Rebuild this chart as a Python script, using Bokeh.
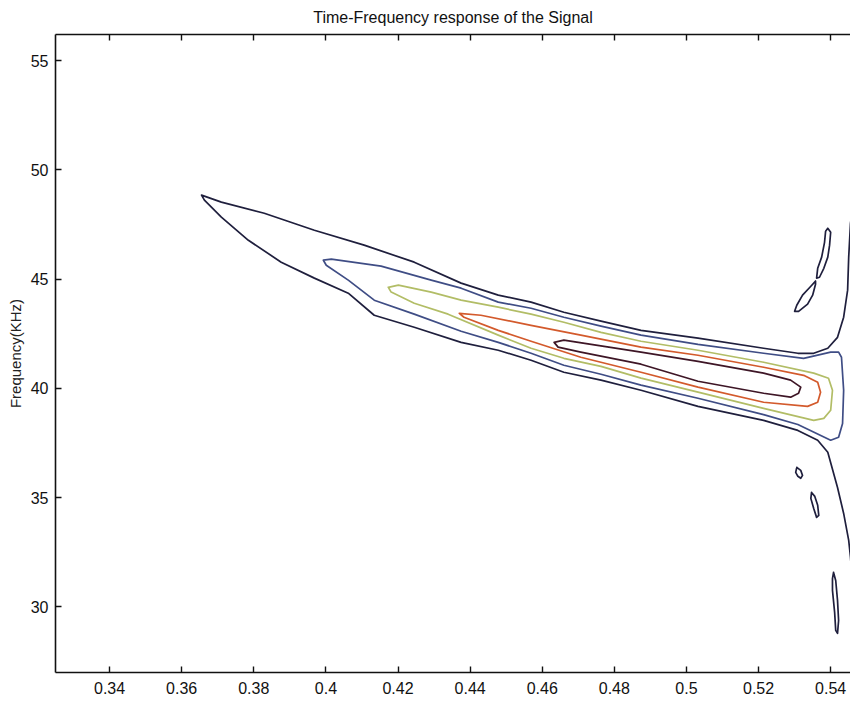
from bokeh.plotting import figure
from bokeh.models import Range1d, LinearAxis, FixedTicker, CustomJSTickFormatter, ColumnDataSource
from bokeh.embed import file_html
from bokeh.resources import INLINE

# ---- data (time in s, frequency in kHz), contour outlines ----
x_ticks = [0.34, 0.36, 0.38, 0.40, 0.42, 0.44, 0.46, 0.48, 0.50, 0.52, 0.54]
y_ticks = [30, 35, 40, 45, 50, 55]

# level 1 (outermost, open at the right edge)
outer_x = [0.5464, 0.5455, 0.5450, 0.5447, 0.5436, 0.5419, 0.5392, 0.5353, 0.5309, 0.5214,
           0.5032, 0.4874, 0.4763, 0.4660, 0.4569, 0.4478, 0.4375, 0.4245, 0.4106, 0.3968,
           0.3829, 0.3710, 0.3655,
           0.3663, 0.3710, 0.3785, 0.3876, 0.3968, 0.4062, 0.4134, 0.4245, 0.4375, 0.4478,
           0.4569, 0.4660, 0.4763, 0.4874, 0.5032, 0.5214, 0.5309, 0.5364, 0.5392, 0.5419,
           0.5436, 0.5450, 0.5455, 0.5464]
outer_y = [48.62, 47.56, 46.01, 44.50, 43.26, 42.34, 41.84, 41.61, 41.61, 41.84,
           42.30, 42.66, 43.08, 43.49, 43.95, 44.27, 44.82, 45.78, 46.56, 47.24,
           48.02, 48.53, 48.85,
           48.62, 47.84, 46.78, 45.78, 45.05, 44.36, 43.35, 42.80, 42.11, 41.75,
           41.29, 40.74, 40.38, 39.92, 39.18, 38.54, 38.08, 37.63, 37.08, 35.47,
           34.28, 33.05, 32.28, 30.30]

# level 2
blue_x = [0.3993, 0.4015, 0.4153, 0.4292, 0.4375, 0.4478, 0.4569, 0.4660, 0.4763, 0.4874,
          0.5032, 0.5214, 0.5325, 0.5400, 0.5422, 0.5430, 0.5436, 0.5433, 0.5422, 0.5400,
          0.5309, 0.5214, 0.5032, 0.4874, 0.4763, 0.4660, 0.4569, 0.4478, 0.4375, 0.4245,
          0.4134, 0.4062, 0.4001, 0.3993]
blue_y = [45.87, 45.92, 45.60, 44.96, 44.59, 43.95, 43.67, 43.26, 42.85, 42.44,
          42.02, 41.61, 41.38, 41.66, 41.66, 41.43, 39.92, 38.40, 37.77, 37.63,
          38.35, 38.80, 39.55, 40.15, 40.65, 41.06, 41.61, 42.11, 42.62, 43.40,
          44.04, 44.96, 45.64, 45.87]

# level 3
green_x = [0.4173, 0.4201, 0.4292, 0.4375, 0.4478, 0.4569, 0.4660, 0.4763, 0.4874, 0.5032,
           0.5214, 0.5353, 0.5394, 0.5405, 0.5400, 0.5381, 0.5353, 0.5214, 0.5032, 0.4874,
           0.4763, 0.4660, 0.4569, 0.4478, 0.4339, 0.4245, 0.4181, 0.4173]
green_y = [44.63, 44.73, 44.41, 44.04, 43.72, 43.40, 43.03, 42.57, 42.16, 41.75,
           41.20, 40.70, 40.47, 39.92, 39.00, 38.63, 38.54, 39.09, 39.83, 40.47,
           41.01, 41.38, 41.84, 42.44, 43.40, 43.90, 44.41, 44.63]

# level 4
orange_x = [0.4370, 0.4430, 0.4569, 0.4707, 0.4874, 0.5032, 0.5214, 0.5325, 0.5364, 0.5372,
            0.5364, 0.5336, 0.5214, 0.5032, 0.4874, 0.4707, 0.4569, 0.4478, 0.4383, 0.4370]
orange_y = [43.44, 43.35, 42.89, 42.44, 41.89, 41.52, 40.97, 40.60, 40.28, 39.83,
            39.37, 39.18, 39.37, 40.06, 40.74, 41.43, 42.16, 42.66, 43.26, 43.44]

# level 5 (innermost)
inner_x = [0.4633, 0.4660, 0.4874, 0.5032, 0.5214, 0.5289, 0.5317, 0.5311, 0.5289, 0.5214,
           0.5032, 0.4874, 0.4707, 0.4644, 0.4633]
inner_y = [42.11, 42.21, 41.66, 41.24, 40.70, 40.38, 40.06, 39.78, 39.60, 39.78,
           40.33, 41.11, 41.66, 41.89, 42.11]

# small level-1 islands on the right
isl1_x = [0.5392, 0.5400, 0.5397, 0.5392, 0.5381, 0.5369, 0.5361, 0.5364, 0.5375, 0.5383, 0.5386, 0.5392]
isl1_y = [47.33, 47.15, 46.56, 46.01, 45.50, 45.09, 45.05, 45.50, 46.01, 46.69, 47.20, 47.33]
isl2_x = [0.5358, 0.5358, 0.5350, 0.5336, 0.5311, 0.5300, 0.5306, 0.5322, 0.5345, 0.5358]
isl2_y = [44.91, 44.77, 44.27, 43.86, 43.53, 43.53, 43.81, 44.27, 44.68, 44.91]
isl3_x = [0.5306, 0.5317, 0.5322, 0.5317, 0.5309, 0.5303, 0.5306]
isl3_y = [36.39, 36.25, 36.02, 35.89, 35.98, 36.16, 36.39]
isl4_x = [0.5347, 0.5356, 0.5364, 0.5367, 0.5361, 0.5353, 0.5345, 0.5347]
isl4_y = [35.24, 35.06, 34.65, 34.19, 34.10, 34.51, 34.97, 35.24]
isl5_x = [0.5408, 0.5414, 0.5419, 0.5422, 0.5419, 0.5414, 0.5411, 0.5405, 0.5405, 0.5408]
isl5_y = [31.58, 31.21, 30.30, 29.38, 28.79, 28.93, 29.75, 30.76, 31.30, 31.58]

TITLE = "Time-Frequency response of the Signal"
Y_LABEL = "Frequency(KHz)"

C1, C2, C3, C4, C5 = "#1f1f3d", "#3f4d85", "#b2bd66", "#d35a2c", "#3e1626"
INK = "#111111"
FONT = "Liberation Sans"

p = figure(width=850, height=704, output_backend="svg", toolbar_location=None,
           x_range=Range1d(0.325, 0.5455), y_range=Range1d(27.0, 56.2),
           x_axis_location=None, y_axis_location=None, title=None,
           min_border_left=55, min_border_right=0, min_border_top=34, min_border_bottom=32,
           background_fill_color="white", border_fill_color="white")
p.grid.visible = False
p.outline_line_color = None

fmt = CustomJSTickFormatter(code="return String(Math.round(tick*100)/100);")

def style(ax):
    ax.major_tick_in = 6
    ax.major_tick_out = 0
    ax.minor_tick_line_color = None
    ax.axis_line_width = 1.6
    ax.axis_line_color = INK
    ax.major_tick_line_color = INK
    ax.major_tick_line_width = 1.4
    ax.major_label_text_font = FONT
    ax.major_label_text_font_size = "16px"
    ax.major_label_text_color = INK

xb = LinearAxis(ticker=FixedTicker(ticks=x_ticks), formatter=fmt)
style(xb)
xb.major_label_standoff = 9
p.add_layout(xb, "below")

# top frame edge with inward ticks; its tick labels are not painted, the title is its label
xt = LinearAxis(ticker=FixedTicker(ticks=x_ticks), formatter=fmt, axis_label=TITLE)
style(xt)
xt.major_label_text_color = None
xt.major_label_standoff = 0
xt.axis_label_text_font = FONT
xt.axis_label_text_font_size = "16px"
xt.axis_label_text_font_style = "normal"
xt.axis_label_text_color = INK
xt.axis_label_standoff = 9
p.add_layout(xt, "above")

yl = LinearAxis(ticker=FixedTicker(ticks=y_ticks), axis_label=Y_LABEL)
style(yl)
yl.major_label_standoff = 7
yl.axis_label_text_font = FONT
yl.axis_label_text_font_size = "15px"
yl.axis_label_text_font_style = "normal"
yl.axis_label_text_color = "#222222"
yl.axis_label_standoff = 4
p.add_layout(yl, "left")

src = ColumnDataSource(dict(
    xs=[outer_x, blue_x, green_x, orange_x, inner_x, isl1_x, isl2_x, isl3_x, isl4_x, isl5_x],
    ys=[outer_y, blue_y, green_y, orange_y, inner_y, isl1_y, isl2_y, isl3_y, isl4_y, isl5_y],
    color=[C1, C2, C3, C4, C5, C1, C1, C1, C1, C1],
))
p.multi_line(xs="xs", ys="ys", line_color="color", line_width=1.7,
             line_join="round", line_cap="round", source=src)

open("out.html", "w").write(file_html(p, INLINE))
